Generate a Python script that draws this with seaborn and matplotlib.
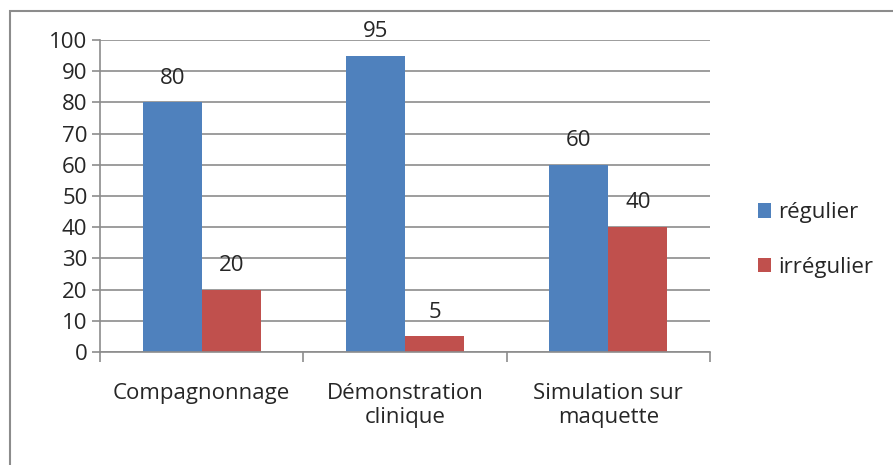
import pandas as pd
import matplotlib
matplotlib.use('Agg')
import matplotlib.pyplot as plt
import seaborn as sns
from matplotlib.patches import Rectangle
from matplotlib.ticker import MultipleLocator, FixedLocator

categories = ["Compagnonnage", "Démonstration\nclinique", "Simulation sur\nmaquette"]
regulier = [80, 95, 60]
irregulier = [20, 5, 40]
series = ["régulier", "irrégulier"]
colors = ["#4F81BD", "#C0504D"]

df = pd.DataFrame({
    "cat": categories * 2,
    "val": regulier + irregulier,
    "serie": [series[0]] * 3 + [series[1]] * 3,
})

sns.set_style("white")
plt.rcParams['font.family'] = ['Open Sans', 'DejaVu Sans']
fs = 16

fig = plt.figure(figsize=(8.93, 4.65), dpi=100)
ax = fig.add_axes([100 / 893, 1 - 352 / 465, 610 / 893, 312 / 465])

sns.barplot(data=df, x="cat", y="val", hue="serie", palette=colors,
            width=0.58, saturation=1, linewidth=0, ax=ax, legend=True)

ax.set_ylim(0, 100)
ax.set_xlim(-0.5, 2.5)
ax.yaxis.set_major_locator(MultipleLocator(10))
ax.grid(axis='y', color='#8c8c8c', linewidth=1.2)
ax.set_axisbelow(True)
for s in ['top', 'right']:
    ax.spines[s].set_visible(False)
for s in ['left', 'bottom']:
    ax.spines[s].set_color('#8c8c8c')
    ax.spines[s].set_linewidth(1.2)

ax.tick_params(axis='y', which='major', length=6, color='#8c8c8c', width=1.2,
               labelsize=fs, pad=3, left=True)
ax.tick_params(axis='x', which='major', length=0, labelsize=fs, pad=22)
ax.xaxis.set_minor_locator(FixedLocator([-0.5, 0.5, 1.5, 2.5]))
ax.tick_params(axis='x', which='minor', length=7, color='#8c8c8c', width=1.2,
               bottom=True)
ax.set_xlabel("")
ax.set_ylabel("")

for container in ax.containers:
    ax.bar_label(container, fmt='%.0f', padding=10, fontsize=fs)

handles, labels = ax.get_legend_handles_labels()
ax.legend(handles, labels, loc='center left', bbox_to_anchor=(738 / 893, 1 - 240 / 465),
          bbox_transform=fig.transFigure, frameon=False, fontsize=fs,
          handlelength=0.6, handleheight=0.6, handletextpad=0.3, labelspacing=1.5)

fig.patches.append(Rectangle((10 / 893, -0.1), 2, 1.1 - 11 / 465,
                             transform=fig.transFigure, fill=False,
                             edgecolor='#8c8c8c', linewidth=1.5))

fig.savefig("out.png", dpi=100)
